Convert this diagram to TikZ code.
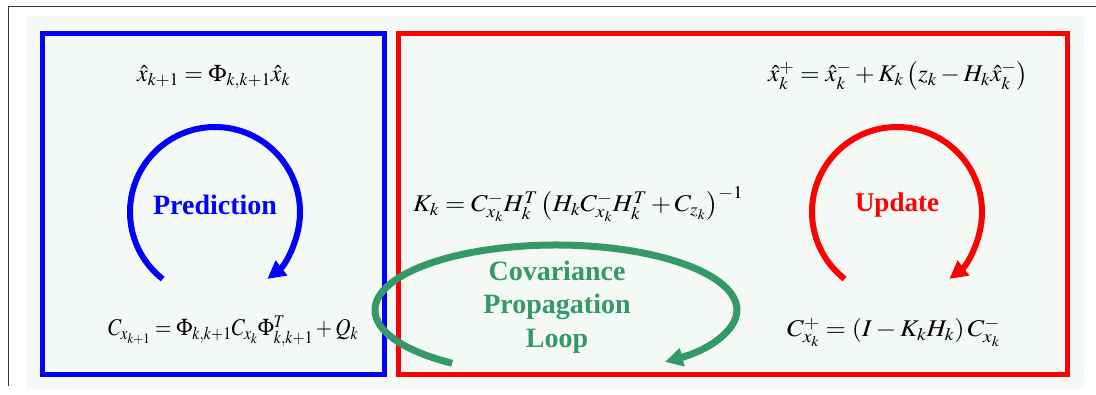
\documentclass[tikz,border=0pt]{standalone}
\usepackage[no-math]{fontspec}
\usepackage{mathptmx}
\usepackage{graphicx}
\setmainfont{Liberation Serif}
\usetikzlibrary{arrows.meta}
\definecolor{bgc}{HTML}{F5F9F6}
\definecolor{pblue}{HTML}{0000FF}
\definecolor{ured}{HTML}{FF0000}
\definecolor{cgreen}{HTML}{339966}
\newcommand\fitw[2]{\resizebox{#1}{\height}{#2}}
\tikzset{
  eq/.style={inner sep=0pt, anchor=base west, font=\fontsize{24}{28}\selectfont},
  lab/.style={inner sep=0pt, font=\fontsize{27}{33}\selectfont\bfseries, align=center},
  loop/.style={line width=6pt, -{Triangle[length=18pt,width=18pt]}},
  panel/.style={line width=5pt}
}
\begin{document}
\begin{tikzpicture}[x=1pt,y=-1pt]
\useasboundingbox (0,0) rectangle (1096,395);
\fill[white] (0,0) rectangle (1096,395);
\fill[bgc] (27,16) rectangle (1084,389);
\draw[line width=1pt, black!80] (1096,7) -- (8,7) -- (8,386);
% panels
\draw[panel, pblue] (42.5,33.5) rectangle (384.5,374.5);
\draw[panel, ured] (398.5,33.5) rectangle (1067.5,374.5);
% prediction
\node[eq] (xpred) at (137,82) {\fitw{153pt}{$\hat{x}_{k+1} = \Phi_{k,k+1}\hat{x}_k$}};
\node[eq] (cpred) at (108,336) {\fitw{250pt}{$C_{x_{k+1}} = \Phi_{k,k+1} C_{x_k} \Phi^T_{k,k+1} + Q_k$}};
\node[lab, text=pblue, font=\fontsize{28}{33}\selectfont\bfseries] (pred) at (215,205) {Prediction};
\draw[loop, pblue] (215,212) ++(128:85) arc[start angle=128, end angle=412, radius=85];
% update
\node[eq] (xupd) at (768,82) {\fitw{260pt}{$\hat{x}^+_k = \hat{x}^-_k + K_k\left(z_k - H_k\hat{x}^-_k\right)$}};
\node[eq] (cupd) at (787,337) {\fitw{213pt}{$C^+_{x_k} = \left(I - K_k H_k\right) C^-_{x_k}$}};
\node[eq] (gain) at (413,212) {\fitw{330pt}{$K_k = C^-_{x_k} H^T_k \left(H_k C^-_{x_k} H^T_k + C_{z_k}\right)^{-1}$}};
\node[lab, text=ured] (upd) at (897,205) {Update};
\draw[loop, ured] (897,212) ++(128:85) arc[start angle=128, end angle=412, radius=85];
% covariance loop
\node[lab, text=cgreen, font=\fontsize{28}{33.5}\selectfont\bfseries] (cov) at (557,307) {Covariance\\Propagation\\Loop};
\draw[loop, cgreen, line width=7pt] (556,310) ++(125:181 and 65) arc[start angle=125, end angle=413, x radius=181, y radius=65];
\end{tikzpicture}
\end{document}
